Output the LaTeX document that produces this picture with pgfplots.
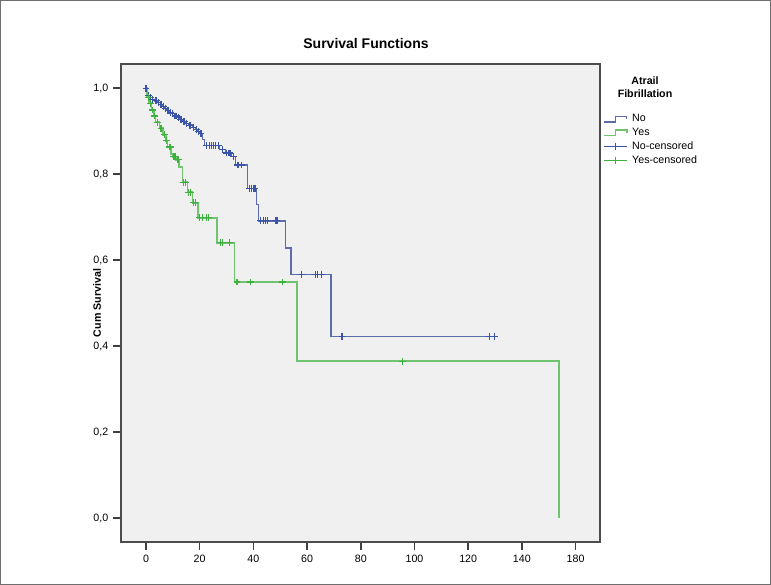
\documentclass[border=0pt]{standalone}
\usepackage{fontspec}
\setmainfont{Liberation Sans}
\usepackage{pgfplots}
\usepackage{pgfplotstable}
\pgfplotsset{compat=1.18}
\definecolor{bgray}{RGB}{240,240,240}
\definecolor{noline}{RGB}{92,108,172}
\definecolor{nomark}{RGB}{58,84,170}
\definecolor{yesline}{RGB}{112,196,112}
\definecolor{yesmark}{RGB}{62,176,62}
\definecolor{framegray}{RGB}{110,110,110}
\pgfplotsset{
  steplegend/.style={legend image code/.code={\draw[##1] (0cm,-0.07cm) -- (0.3cm,-0.07cm) -- (0.3cm,0.07cm) -- (0.6cm,0.07cm) -- (0.6cm,0cm);}},
  censlegend/.style={legend image code/.code={\draw[#1, line width=0.8pt] (0cm,0cm) -- (0.6cm,0cm); \draw[#1, line width=0.8pt] (0.3cm,-0.09cm) -- (0.3cm,0.09cm);}},
}

\pgfplotstableread{
t s
0 1.000
0.6 0.982
1.5 0.978
2.3 0.974
3.2 0.970
4.4 0.966
5.3 0.962
6.1 0.957
7.0 0.953
7.8 0.948
8.7 0.944
9.6 0.940
10.5 0.935
11.6 0.931
12.5 0.926
13.6 0.922
14.8 0.918
16.0 0.914
17.3 0.909
18.4 0.904
19.3 0.899
20.0 0.894
21.0 0.880
21.8 0.866
27.5 0.857
29.5 0.849
32.0 0.840
33.2 0.821
37.8 0.767
41.3 0.730
42.0 0.691
52.0 0.628
54.0 0.567
68.9 0.423
131.0 0.423
}\nostep

\pgfplotstableread{
t s
0 1.000
1.0 0.982
1.8 0.978
2.6 0.974
3.5 0.970
4.0 0.970
4.8 0.966
5.6 0.962
6.5 0.957
7.3 0.953
8.2 0.948
9.0 0.944
9.9 0.940
10.8 0.935
11.2 0.935
12.0 0.931
12.8 0.926
13.2 0.926
14.0 0.922
14.4 0.922
15.2 0.918
16.4 0.914
17.6 0.909
18.8 0.904
19.6 0.899
20.5 0.894
22.5 0.866
23.5 0.866
24.5 0.866
25.3 0.866
26.0 0.866
27.0 0.866
28.5 0.857
30.0 0.849
30.8 0.849
31.3 0.849
32.5 0.840
34.0 0.821
34.6 0.821
35.5 0.821
38.5 0.767
39.2 0.767
40.0 0.767
40.6 0.767
42.8 0.691
43.6 0.691
44.4 0.691
45.2 0.691
48.2 0.691
48.8 0.691
58.0 0.567
63.0 0.567
63.8 0.567
65.5 0.567
73.0 0.423
128.0 0.423
129.8 0.423
}\nocens

\pgfplotstableread{
t s
0 1.000
0.4 0.979
1.2 0.965
2.0 0.949
3.0 0.935
3.6 0.921
5.0 0.907
6.4 0.891
7.4 0.877
8.0 0.863
9.4 0.847
10.0 0.840
11.2 0.833
12.3 0.816
13.6 0.781
15.4 0.758
17.4 0.733
19.3 0.698
26.4 0.640
32.9 0.549
56.2 0.365
153.8 0.000
}\yesstep

\pgfplotstableread{
t s
0.8 0.979
1.6 0.965
2.4 0.949
3.3 0.935
4.2 0.921
5.6 0.907
6.8 0.891
7.7 0.877
8.6 0.863
9.0 0.863
10.4 0.840
10.8 0.840
11.6 0.833
12.0 0.833
14.0 0.781
14.6 0.781
15.8 0.758
16.6 0.758
17.8 0.733
18.4 0.733
20.0 0.698
21.0 0.698
22.5 0.698
23.3 0.698
27.8 0.640
28.5 0.640
31.0 0.640
33.9 0.549
39.1 0.549
51.0 0.549
95.7 0.365
}\yescens

\begin{document}
\begin{tikzpicture}
\useasboundingbox (0,0) rectangle (578.25pt,438.75pt);
\draw[framegray, line width=0.9pt] (0.45pt,0.45pt) rectangle (577.8pt,438.3pt);
\begin{axis}[
  at={(90.75pt,32.25pt)}, anchor=south west,
  scale only axis, width=359.25pt, height=358.5pt,
  xmin=-9.3, xmax=169.1, ymin=-0.0558, ymax=1.056,
  axis background/.style={fill=bgray},
  axis line style={draw=black!70, line width=0.9pt},
  xtick={0,20,40,60,80,100,120,140,160},
  xticklabels={0,20,40,60,80,100,120,140,180},
  ytick={0,0.2,0.4,0.6,0.8,1.0},
  xtick pos=bottom, ytick pos=left,
  tick align=outside,
  major tick length=6pt,
  every tick/.style={black!75, line width=1.1pt},
  /pgf/number format/assume math mode=true,
  yticklabel style={/pgf/number format/.cd, use comma, fixed, fixed zerofill, precision=1},
  ticklabel style={font=\fontsize{8}{9.6}\selectfont},
  title={Survival Functions},
  every axis title/.style={at={(axis description cs:0.5115,1.0439)}, anchor=center, font=\bfseries\fontsize{10.5}{12}\selectfont},
  ylabel={Cum Survival},
  every axis y label/.style={at={(axis description cs:-0.0501,0.5)}, rotate=90, anchor=center, font=\bfseries\fontsize{8}{9.6}\selectfont},
  legend style={at={(axis description cs:1.0063,0.8975)}, anchor=north west, draw=none, fill=none,
    font=\fontsize{8}{9.6}\selectfont, inner sep=0pt, row sep=1.2pt, column sep=2.5pt,
    nodes={inner sep=1pt}},
  legend cell align=left,
]
\addplot[const plot, color=noline, line width=0.9pt, steplegend]
  table[x=t,y=s] {\nostep};
\addlegendentry{No}
\addplot[const plot, color=yesline, line width=1.1pt, steplegend]
  table[x=t,y=s] {\yesstep};
\addlegendentry{Yes}
\addplot[only marks, mark=+, mark size=2.6pt, color=nomark, line width=0.8pt, censlegend=nomark]
  table[x=t,y=s] {\nocens};
\addlegendentry{No-censored}
\addplot[only marks, mark=+, mark size=2.6pt, color=yesmark, line width=0.8pt, censlegend=yesmark]
  table[x=t,y=s] {\yescens};
\addlegendentry{Yes-censored}
\end{axis}
\node[font=\bfseries\fontsize{8}{9.6}\selectfont, align=center] at (483.75pt,373.1pt) {Atrail\\Fibrillation};
\end{tikzpicture}
\end{document}
